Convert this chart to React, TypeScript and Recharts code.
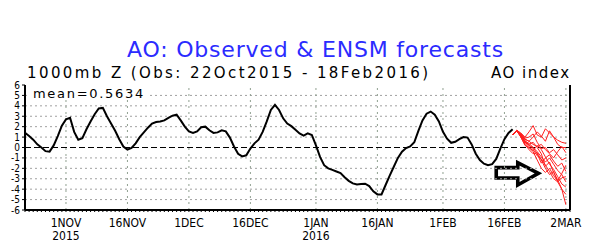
import { LineChart, Line, XAxis, YAxis, ReferenceLine, ReferenceArea } from "recharts";

// observed AO index, one value per day from 22 Oct 2015 (day 0) to 18 Feb 2016 (day 119)
const obsValues = [
  1.41, 1.1, 0.75, 0.3, 0.0, -0.35, -0.4, 0.2, 1.1, 2.1,
  2.7, 2.85, 1.5, 0.75, 0.9, 1.75, 2.5, 3.2, 3.75, 3.8,
  3.0, 2.3, 1.6, 0.8, 0.1, -0.2, -0.05, 0.4, 1.0, 1.45,
  1.9, 2.3, 2.45, 2.5, 2.6, 2.85, 3.05, 3.15, 2.6, 2.0,
  1.55, 1.4, 1.55, 1.95, 2.0, 1.65, 1.4, 1.45, 1.65, 1.55,
  0.95, 0.1, -0.6, -0.85, -0.75, -0.1, 0.4, 0.75, 1.5, 2.5,
  3.6, 4.1, 3.6, 2.8, 2.3, 2.05, 1.7, 1.35, 1.15, 1.35,
  1.2, 0.2, -0.9, -1.7, -2.0, -2.15, -2.3, -2.45, -2.85, -3.2,
  -3.45, -3.55, -3.5, -3.47, -3.7, -4.2, -4.5, -4.5, -3.6, -2.7,
  -1.85, -1.0, -0.4, -0.05, 0.1, 0.5, 1.6, 2.6, 3.25, 3.45,
  3.15, 2.5, 1.5, 0.85, 0.45, 0.55, 0.8, 1.0, 0.95, 0.3,
  -0.6, -1.2, -1.55, -1.7, -1.6, -1.1, -0.1, 0.8, 1.4, 1.75,
];

// ensemble forecasts, daily from 18 Feb (day 119) to 2 Mar (day 132)
const fcStart = 119;
const members = [
  [1.2, 1.65, 1.4, 1.0, 1.5, 2.1, 1.2, 1.0, 1.8, 1.4, 1.0, 0.7, 0.5, 0.4],
  [1.2, 1.6, 1.3, 0.8, 0.6, 1.0, 1.5, 1.1, 0.6, 1.6, 1.0, 0.3, 0.0, 0.0],
  [1.2, 1.65, 1.2, 0.5, 0.2, 0.0, -0.4, -0.9, -1.4, -1.0, -1.6, -2.2, -2.6, -3.3],
  [1.2, 1.6, 1.1, 0.4, 0.0, -0.3, 0.2, -0.2, -0.9, -1.6, -2.1, -2.8, -3.5, -3.8],
  [1.2, 1.65, 1.2, 0.5, 0.3, 0.5, 0.0, -0.6, -1.8, -1.4, -2.4, -3.1, -4.0, -5.5],
  [1.2, 1.6, 1.0, 0.3, -0.2, -0.6, -0.5, -1.2, -2.0, -2.6, -2.3, -3.3, -4.0, -4.5],
  [1.2, 1.65, 1.3, 0.8, 0.6, 0.3, 0.1, 0.3, -0.2, -0.6, -1.0, -0.4, 0.1, -0.5],
  [1.2, 1.6, 1.1, 0.6, 0.4, 0.0, -0.6, -1.5, -1.0, -0.7, -1.3, -1.8, -1.5, -2.3],
  [1.2, 1.65, 1.2, 0.7, 0.2, -0.2, -0.8, -1.1, -1.7, -2.3, -3.0, -3.3, -2.9, -2.8],
  [1.2, 1.6, 1.3, 0.9, 1.0, 1.3, 0.5, -0.1, 0.0, -0.5, -0.2, -0.7, -1.2, -1.0],
  [1.2, 1.65, 1.0, 0.2, 0.0, -0.4, -1.2, -2.0, -2.4, -2.0, -2.7, -3.2, -2.5, -1.7],
];

const tickDays = [10, 25, 40, 55, 71, 86, 102, 117, 132];
const tickLabels = ["1NOV", "16NOV", "1DEC", "16DEC", "1JAN", "16JAN", "1FEB", "16FEB", "2MAR"];
const tickYears = ["2015", "", "", "", "2016", "", "", "", ""];
const yTicks = [-6, -5, -4, -3, -2, -1, 0, 1, 2, 3, 4, 5, 6];
const gridYs = [-5, -4, -3, -2, -1, 1, 2, 3, 4, 5];

const lastDay = 133;
const allDays = Array.from({ length: lastDay + 1 }, (_, i) => i);

const data = allDays.map((d) => {
  const row: Record<string, number | undefined> = { day: d };
  row.obs = d < obsValues.length ? obsValues[d] : undefined;
  members.forEach((m, k) => {
    const j = d - fcStart;
    row["m" + k] = j >= 0 && j < m.length ? m[j] : undefined;
  });
  return row;
});

const smallFont = "'Liberation Sans Narrow', 'DejaVu Sans Condensed', 'Liberation Sans', sans-serif";
const bigFont = "'DejaVu Sans', sans-serif";

function DateTick(props: any) {
  const { x, y, payload } = props;
  const i = tickDays.indexOf(payload.value);
  if (i < 0) return <g />;
  return (
    <g>
      <text x={x} y={y + 13} textAnchor="middle" fontSize={12} fontFamily={smallFont} fill="#000">
        {tickLabels[i]}
      </text>
      {tickYears[i] && (
        <text x={x} y={y + 26} textAnchor="middle" fontSize={12} fontFamily={smallFont} fill="#000">
          {tickYears[i]}
        </text>
      )}
    </g>
  );
}

function ArrowShape(props: any) {
  const { x, y, width: w, height: h } = props;
  const hx = x + 0.51 * w;
  const pts = [
    [x, y + 0.22 * h],
    [hx, y + 0.22 * h],
    [hx, y],
    [x + w, y + 0.475 * h],
    [hx, y + h],
    [hx, y + 0.685 * h],
    [x, y + 0.685 * h],
  ]
    .map((p) => p.join(","))
    .join(" ");
  return <polygon points={pts} fill="#fff" stroke="#000" strokeWidth={3.6} strokeLinejoin="miter" />;
}

export default function App() {
  return (
    <div style={{ position: "absolute", left: 0, top: 0, width: 596, height: 247, background: "#fff" }}>
      <LineChart width={596} height={247} data={data} margin={{ top: 85, right: 0, bottom: 0, left: 0 }}>
        <XAxis
          xAxisId="b"
          dataKey="day"
          type="number"
          domain={[0, lastDay]}
          ticks={allDays}
          interval={0}
          tick={<DateTick />}
          tickSize={2}
          height={37}
          axisLine={{ stroke: "#000", strokeWidth: 2 }}
          tickLine={{ stroke: "#000" }}
        />
        <XAxis
          xAxisId="t"
          orientation="top"
          dataKey="day"
          type="number"
          domain={[0, lastDay]}
          ticks={allDays}
          interval={0}
          tick={false}
          mirror
          tickSize={2}
          height={0}
          axisLine={{ stroke: "#000", strokeWidth: 2 }}
          tickLine={{ stroke: "#000" }}
        />
        <YAxis
          yAxisId="l"
          type="number"
          domain={[-6, 6]}
          ticks={yTicks}
          interval={0}
          width={25}
          tickSize={3}
          tickMargin={2}
          tick={{ fontSize: 10, fontFamily: smallFont, fill: "#000" }}
          axisLine={{ stroke: "#000", strokeWidth: 2 }}
          tickLine={{ stroke: "#000" }}
        />
        <YAxis
          yAxisId="r"
          orientation="right"
          type="number"
          domain={[-6, 6]}
          ticks={yTicks}
          width={26}
          tick={false}
          tickLine={false}
          axisLine={{ stroke: "#000", strokeWidth: 2 }}
        />
        {gridYs.map((v) => (
          <ReferenceLine key={"gy" + v} xAxisId="b" yAxisId="l" y={v} stroke="#a0a0a0" strokeDasharray="2 3" />
        ))}
        {tickDays.map((d) => (
          <ReferenceLine key={"gx" + d} xAxisId="b" yAxisId="l" x={d} stroke="#90a090" strokeDasharray="2 4" />
        ))}
        <ReferenceLine xAxisId="b" yAxisId="l" y={0} stroke="#000" strokeDasharray="6 3" strokeWidth={1.2} />
        {members.map((_, k) => (
          <Line
            key={"m" + k}
            xAxisId="b"
            yAxisId="l"
            dataKey={"m" + k}
            stroke="#ff2020"
            strokeWidth={1}
            dot={false}
            isAnimationActive={false}
          />
        ))}
        <Line
          xAxisId="b"
          yAxisId="l"
          dataKey="obs"
          stroke="#000"
          strokeWidth={2}
          dot={false}
          isAnimationActive={false}
        />
        <ReferenceArea
          xAxisId="b"
          yAxisId="l"
          x1={115}
          x2={125.3}
          y1={-1.46}
          y2={-3.6}
          shape={<ArrowShape />}
        />
      </LineChart>
      <svg width={596} height={247} style={{ position: "absolute", left: 0, top: 0, pointerEvents: "none" }}>
        <text x={127} y={57} fontSize={22} fontFamily={bigFont} letterSpacing={0.8} fill="#2b2bff">
          AO: Observed &amp; ENSM forecasts
        </text>
        <text x={27} y={78} fontSize={15} fontFamily={bigFont} letterSpacing={2.4} fill="#000">
          1000mb Z (Obs: 22Oct2015 - 18Feb2016)
        </text>
        <text x={491} y={78} fontSize={15} fontFamily={bigFont} letterSpacing={1.5} fill="#000">
          AO index
        </text>
        <rect x={30} y={87} width={118} height={13} fill="#fff" />
        <text x={33} y={98} fontSize={13} fontFamily={bigFont} letterSpacing={1.7} fill="#000">
          mean=0.5634
        </text>
      </svg>
    </div>
  );
}
